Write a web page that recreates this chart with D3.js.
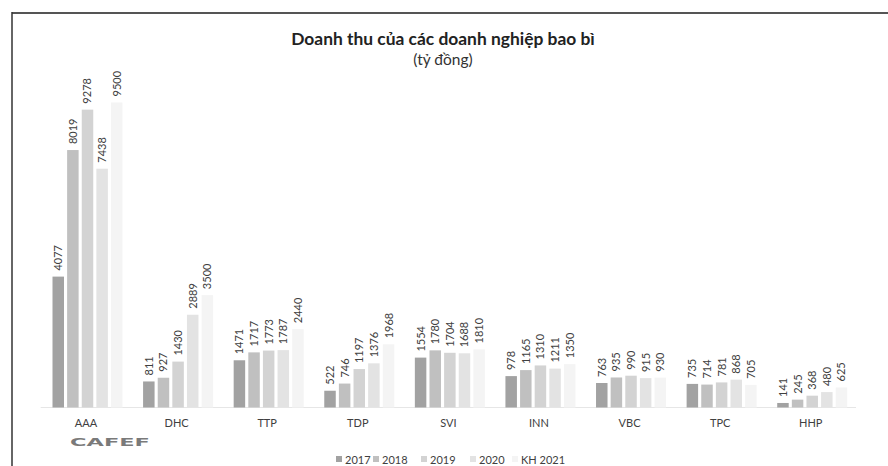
<!DOCTYPE html>
<html><head><meta charset="utf-8">
<script src="https://cdn.jsdelivr.net/npm/d3@7"></script>
<style>html,body{margin:0;padding:0;background:#fff;}svg{display:block;}</style>
</head><body>
<svg id="c" width="888" height="466"></svg>
<script>
const categories = ["AAA","DHC","TTP","TDP","SVI","INN","VBC","TPC","HHP"];
const seriesNames = ["2017","2018","2019","2020","KH 2021"];
const v2017 = [4077, 811, 1471, 522, 1554, 978, 763, 735, 141];
const v2018 = [8019, 927, 1717, 746, 1780, 1165, 935, 714, 245];
const v2019 = [9278, 1430, 1773, 1197, 1704, 1310, 990, 781, 368];
const v2020 = [7438, 2889, 1787, 1376, 1688, 1211, 915, 868, 480];
const vKH2021 = [9500, 3500, 2440, 1968, 1810, 1350, 930, 705, 625];
const seriesValues = [v2017, v2018, v2019, v2020, vKH2021];
const colors = ["#a2a2a2","#c0c0c0","#d3d3d3","#e3e3e3","#f4f4f4"];

const svg = d3.select("#c");
const font = "Lato, 'Open Sans', sans-serif";

// frame
svg.append("line").attr("x1",12).attr("x2",888).attr("y1",13).attr("y2",13).attr("stroke","#555").attr("stroke-width",2);
svg.append("line").attr("x1",12).attr("x2",12).attr("y1",12).attr("y2",466).attr("stroke","#333").attr("stroke-width",1.5);

// title
svg.append("text").attr("x",443).attr("y",45).attr("text-anchor","middle")
  .attr("font-family",font).attr("font-weight","bold").attr("font-size",17.4).attr("fill","#222")
  .text("Doanh thu của các doanh nghiệp bao bì");
svg.append("text").attr("x",443).attr("y",65).attr("text-anchor","middle")
  .attr("font-family",font).attr("font-size",15.5).attr("fill","#333")
  .text("(tỷ đồng)");

const x0 = d3.scaleBand().domain(categories).range([40.7, 856]).paddingInner(0).paddingOuter(0);
const x1 = d3.scaleBand().domain(seriesNames).range([0, 70]).paddingInner(3/14).paddingOuter(0);
const y = d3.scaleLinear().domain([0, 9500]).range([407.5, 102.5]);

// baseline
svg.append("line").attr("x1",40.7).attr("x2",856).attr("y1",407.5).attr("y2",407.5).attr("stroke","#e6e6e6").attr("stroke-width",1);

const data = [];
categories.forEach((c, i) => seriesNames.forEach((s, j) => data.push({c, s, v: seriesValues[j][i], j})));

const groupOffset = (x0.bandwidth() - 67) / 2;

svg.append("g").selectAll("rect").data(data).join("rect")
  .attr("x", d => x0(d.c) + groupOffset + x1(d.s))
  .attr("width", x1.bandwidth())
  .attr("y", d => y(d.v))
  .attr("height", d => y(0) - y(d.v))
  .attr("fill", d => colors[d.j]);

svg.append("g").selectAll("text").data(data).join("text")
  .attr("transform", d => `translate(${x0(d.c) + groupOffset + x1(d.s) + x1.bandwidth()/2 + 4},${y(d.v) - 6}) rotate(-90)`)
  .attr("font-family", font).attr("font-size", 11).attr("fill", "#404040")
  .text(d => d.v);

// x axis
const xAxis = svg.append("g").attr("transform","translate(0,407.5)")
  .call(d3.axisBottom(x0).tickSize(0).tickPadding(12));
xAxis.select(".domain").remove();
xAxis.selectAll("text").attr("font-family", font).attr("font-size", 11).attr("fill", "#404040");

// logo
svg.append("text").attr("x",70).attr("y",446).attr("font-family","'DejaVu Sans', sans-serif")
  .attr("font-weight","bold").attr("font-size",10).attr("fill","#7a7a7a")
  .attr("textLength",80).attr("lengthAdjust","spacingAndGlyphs").text("CAFEF");

// legend
const legendX = [336, 373, 421, 470, 512];
const leg = svg.append("g");
seriesNames.forEach((s, j) => {
  leg.append("rect").attr("x", legendX[j]).attr("y", 456).attr("width", 6).attr("height", 6).attr("fill", colors[j]);
  leg.append("text").attr("x", legendX[j] + 9).attr("y", 463.5).attr("font-family", font).attr("font-size", 11).attr("fill", "#404040").text(s);
});
</script>
</body></html>
